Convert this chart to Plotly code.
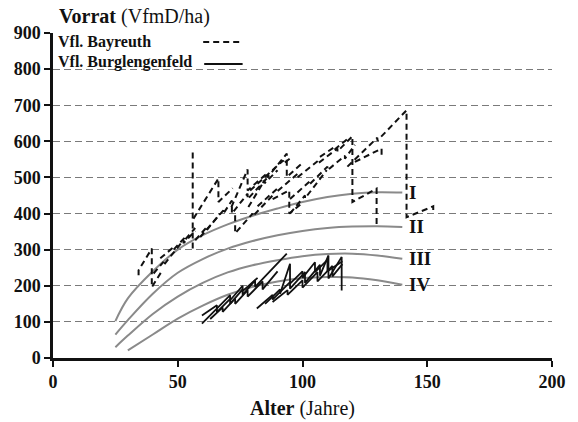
import plotly.graph_objects as go

# Ertragsklassen-Kurven (yield classes I-IV)
curve_age = [25, 30, 40, 50, 60, 70, 80, 90, 100, 110, 120, 130, 140]
curve_I = [102, 165, 240, 300, 340, 370, 394, 414, 432, 446, 455, 459, 458]
curve_II = [65, 105, 178, 236, 274, 303, 324, 340, 352, 360, 364, 365, 363]
curve_III = [30, 62, 122, 170, 208, 237, 257, 271, 282, 288, 289, 284, 275]
curve_IV = [None, 21, 65, 109, 145, 175, 197, 212, 221, 224, 223, 215, 203]
class_labels = ["I", "II", "III", "IV"]

# Versuchsflaechen Bayreuth (age in years, standing volume VfmD/ha)
bay_01_age = [34.3, 34.3, 39.6, 39.6, 44]
bay_01_vol = [229, 243, 303, 196, 245]
bay_02_age = [40.3, 44.3, 44.3, 52.3, 52.3, 57]
bay_02_vol = [234, 266, 257, 326, 318, 352]
bay_03_age = [43, 48.3, 48.3, 53, 53, 57]
bay_03_vol = [276, 307, 300, 335, 328, 360]
bay_04_age = [56, 56]
bay_04_vol = [303, 570]
bay_05_age = [57, 61.7, 61.7, 67]
bay_05_vol = [326, 363, 355, 400]
bay_06_age = [56.3, 66.3, 66.3, 72]
bay_06_vol = [386, 497, 432, 470]
bay_07_age = [59, 68.3, 68.3, 71.7, 71.7, 78, 78, 86]
bay_07_vol = [335, 409, 400, 436, 400, 455, 440, 500]
bay_08_age = [71.5, 78, 78, 86, 86, 93.7, 93.7, 100]
bay_08_vol = [418, 522, 464, 513, 500, 566, 501, 540]
bay_09_age = [73, 73, 80, 80, 88, 88, 94.7, 94.7, 100]
bay_09_vol = [395, 345, 400, 392, 450, 440, 464, 400, 430]
bay_10_age = [82, 90, 90, 98, 98, 106, 106, 114, 114, 120, 120, 129.7, 129.7]
bay_10_vol = [420, 470, 462, 510, 500, 545, 538, 580, 572, 614, 432, 469, 367]
bay_11_age = [95, 103, 103, 110, 110, 117, 117, 121]
bay_11_vol = [440, 490, 482, 530, 520, 560, 552, 590]
bay_12_age = [95, 101, 101, 109.7]
bay_12_vol = [400, 450, 442, 520]
bay_13_age = [121, 131.7, 131.7]
bay_13_vol = [543, 580, 558]
bay_14_age = [118, 130, 130, 141.7, 141.7, 152.4, 152.4]
bay_14_vol = [530, 610, 602, 686, 390, 420, 410]
bay_15_age = [78.3, 84.8, 84.8, 90]
bay_15_vol = [418, 492, 484, 520]
bay_16_age = [79, 92.3, 92.3, 96]
bay_16_vol = [464, 547, 538, 558]
bay_17_age = [107, 113, 113, 119]
bay_17_vol = [557, 585, 578, 612]

# Versuchsflaechen Burglengenfeld
bur_01_age = [59.7, 71, 71, 76, 76, 82]
bur_01_vol = [95, 174, 160, 200, 185, 222]
bur_02_age = [59.7, 65.7, 65.7, 71, 71, 76, 76, 81, 81, 93.7]
bur_02_vol = [118, 146, 127, 164, 150, 190, 175, 215, 197, 289]
bur_03_age = [63, 68, 68, 73, 73, 78, 78, 84, 84, 90]
bur_03_vol = [108, 140, 128, 165, 150, 188, 170, 212, 190, 240]
bur_04_age = [81.7, 88, 88, 95, 95, 101, 101, 107, 107, 110.4, 110.4, 115.7, 115.7]
bur_04_vol = [137, 175, 162, 210, 192, 238, 208, 258, 228, 284, 220, 280, 187]
bur_05_age = [85, 91, 91, 95, 95, 100, 100, 105, 105, 110, 110, 116]
bur_05_vol = [150, 190, 178, 261, 206, 240, 222, 265, 238, 272, 240, 268]
bur_06_age = [88, 94, 94, 100, 100, 106, 106, 112, 112, 116]
bur_06_vol = [155, 188, 175, 215, 195, 238, 212, 255, 226, 260]

bayreuth = [
    (bay_01_age, bay_01_vol), (bay_02_age, bay_02_vol), (bay_03_age, bay_03_vol),
    (bay_04_age, bay_04_vol), (bay_05_age, bay_05_vol), (bay_06_age, bay_06_vol),
    (bay_07_age, bay_07_vol), (bay_08_age, bay_08_vol), (bay_09_age, bay_09_vol),
    (bay_10_age, bay_10_vol), (bay_11_age, bay_11_vol), (bay_12_age, bay_12_vol),
    (bay_13_age, bay_13_vol), (bay_14_age, bay_14_vol), (bay_15_age, bay_15_vol),
    (bay_16_age, bay_16_vol), (bay_17_age, bay_17_vol),
]
burglengenfeld = [
    (bur_01_age, bur_01_vol), (bur_02_age, bur_02_vol), (bur_03_age, bur_03_vol),
    (bur_04_age, bur_04_vol), (bur_05_age, bur_05_vol), (bur_06_age, bur_06_vol),
]

x_ticks = [0, 50, 100, 150, 200]
y_ticks = [0, 100, 200, 300, 400, 500, 600, 700, 800, 900]

SERIF = "Liberation Serif"
INK = "#111111"
GRAY = "#8a8a8a"

fig = go.Figure()

for vals in (curve_I, curve_II, curve_III, curve_IV):
    fig.add_trace(go.Scatter(x=curve_age, y=vals, mode="lines",
                             line=dict(color=GRAY, width=2, shape="spline"),
                             connectgaps=False, hoverinfo="skip"))

for ages, vols in bayreuth:
    fig.add_trace(go.Scatter(x=ages, y=vols, mode="lines",
                             line=dict(color=INK, width=2, dash="6px,4px")))

for ages, vols in burglengenfeld:
    fig.add_trace(go.Scatter(x=ages, y=vols, mode="lines",
                             line=dict(color=INK, width=1.8)))

# class labels at the right end of each curve
for lab, vals in zip(class_labels, (curve_I, curve_II, curve_III, curve_IV)):
    fig.add_annotation(x=curve_age[-1], y=vals[-1], text=f"<b>{lab}</b>",
                       xanchor="left", yanchor="middle", xshift=5, showarrow=False,
                       font=dict(family=SERIF, size=19, color=INK))

# axis titles
fig.add_annotation(xref="paper", yref="paper", x=0.008, y=1.052, xanchor="left",
                   yanchor="middle", showarrow=False,
                   text="<b>Vorrat</b> (VfmD/ha)",
                   font=dict(family=SERIF, size=20, color=INK))
fig.add_annotation(xref="paper", yref="paper", x=0.5, y=-0.155, xanchor="center",
                   yanchor="middle", showarrow=False,
                   text="<b>Alter</b> (Jahre)",
                   font=dict(family=SERIF, size=20, color=INK))

# legend
fig.add_annotation(xref="paper", yref="paper", x=0.006, y=0.973, xanchor="left",
                   yanchor="middle", showarrow=False, text="<b>Vfl. Bayreuth</b>",
                   font=dict(family=SERIF, size=16, color=INK))
fig.add_annotation(xref="paper", yref="paper", x=0.006, y=0.911, xanchor="left",
                   yanchor="middle", showarrow=False, text="<b>Vfl. Burglengenfeld</b>",
                   font=dict(family=SERIF, size=16, color=INK))
fig.add_shape(type="line", xref="paper", yref="paper", x0=0.301, x1=0.377,
              y0=0.972, y1=0.972, line=dict(color=INK, width=2, dash="6px,4px"))
fig.add_shape(type="line", xref="paper", yref="paper", x0=0.303, x1=0.38,
              y0=0.905, y1=0.905, line=dict(color=INK, width=2))

fig.update_layout(
    width=578, height=422,
    margin=dict(l=53, r=26, t=33, b=64),
    paper_bgcolor="white", plot_bgcolor="white",
    showlegend=False,
    font=dict(family=SERIF, color=INK),
)
fig.update_xaxes(range=[0, 200], tickvals=x_ticks,
                 ticktext=[f"<b>{t}</b>" for t in x_ticks],
                 showgrid=False, zeroline=False,
                 showline=True, linecolor=INK, linewidth=2.5,
                 ticks="outside", ticklen=6, tickwidth=2, tickcolor=INK,
                 tickfont=dict(family=SERIF, size=18, color=INK))
fig.update_yaxes(range=[0, 900], tickvals=y_ticks,
                 ticktext=[f"<b>{t}</b>" for t in y_ticks],
                 showgrid=True, gridcolor="#7a7a7a",
                 gridwidth=1, griddash="7px,4px", zeroline=False,
                 showline=True, linecolor=INK, linewidth=2.5,
                 ticks="outside", ticklen=6, tickwidth=2, tickcolor=INK,
                 tickfont=dict(family=SERIF, size=18, color=INK))

fig.write_html("out.html")
